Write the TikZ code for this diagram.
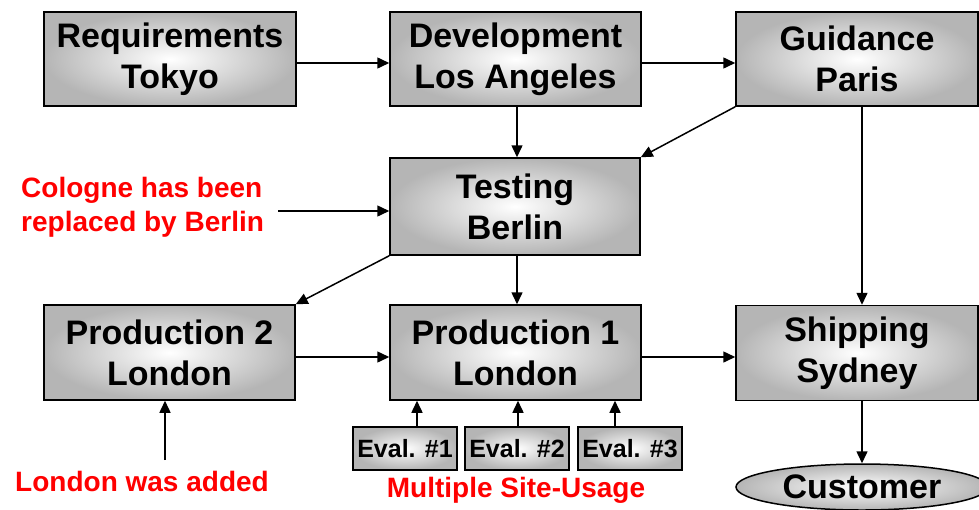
\documentclass[tikz,border=0pt]{standalone}
\usepackage{fontspec}
\setmainfont{Liberation Sans}
\usetikzlibrary{arrows.meta,shapes.geometric}

\tikzset{
  site/.style={draw=black, line width=1.5pt, shading=radial,
    inner color=white, outer color=black!29, inner sep=0pt,
    align=center, font=\fontsize{34}{41}\selectfont\bfseries},
  evalbox/.style={draw=black, line width=1.3pt, shading=radial,
    inner color=white, outer color=black!29, inner sep=0pt,
    minimum width=104pt, minimum height=43pt,
    font=\fontsize{25}{28}\selectfont\bfseries},
  note/.style={text=red, align=left, inner sep=0pt,
    font=\fontsize{28}{34}\selectfont\bfseries},
  flow/.style={line width=1.5pt, -{Triangle[length=12pt,width=11pt]}}
}

\begin{document}
\begin{tikzpicture}[x=1pt,y=-1pt]
  \useasboundingbox (0,0) rectangle (979,509);

  % site boxes
  \node[site, minimum width=252pt, minimum height=94pt] (req)  at (170,59)    {Requirements\\Tokyo};
  \node[site, minimum width=251pt, minimum height=94pt] (dev)  at (515.5,59)  {Development\\Los Angeles};
  \node[site, minimum width=242pt, minimum height=94pt] (gui)  at (857,59)    {Guidance\\Paris};
  \node[site, minimum width=250pt, minimum height=97pt] (test) at (515,206.5) {Testing\\Berlin};
  \node[site, minimum width=251pt, minimum height=95pt] (prod2) at (169.5,352.5) {Production 2\\London};
  \node[site, minimum width=251pt, minimum height=95pt] (prod1) at (515.5,352.5) {Production 1\\London};
  \node[site, minimum width=242pt, minimum height=95pt] (ship) at (857,353)   {Shipping\\Sydney};

  % evaluation sites
  \node[evalbox] (ev1) at (405,448.5) {Eval. \#1};
  \node[evalbox] (ev2) at (517,448.5) {Eval. \#2};
  \node[evalbox] (ev3) at (630,448.5) {Eval. \#3};

  % customer
  \node[site, ellipse, minimum width=252pt, minimum height=46pt] (cust) at (862,487) {Customer};

  % notes
  \node[note, anchor=west] (cologne) at (21,207) {Cologne has been\\replaced by Berlin};
  \node[note] (added) at (142,481) {London was added};
  \node[note] (multi) at (516,490) {Multiple Site-Usage};

  \coordinate (cologneTail) at (278,211);
  \coordinate (addedTail) at (165,460);

  % connectors
  \draw[flow] (req.east |- 0,63) -- (dev.west |- 0,63);
  \draw[flow] (dev.east |- 0,63) -- (gui.west |- 0,63);
  \draw[flow] (dev.south -| 517,0) -- (test.north -| 517,0);
  \draw[flow] (gui.south west) -- (test.north east);
  \draw[flow] (gui.south -| 862,0) -- (ship.north -| 862,0);
  \draw[flow] (cologneTail) -- (test.west |- cologneTail);
  \draw[flow] (test.south west) -- (prod2.north east);
  \draw[flow] (test.south -| 517,0) -- (prod1.north -| 517,0);
  \draw[flow] (prod2.east |- 0,357) -- (prod1.west |- 0,357);
  \draw[flow] (prod1.east |- 0,357) -- (ship.west |- 0,357);
  \draw[flow] (ship.south -| 862,0) -- (cust.north);
  \draw[flow] (addedTail) -- (prod2.south -| addedTail);
  \draw[flow] (ev1.north -| 417,0) -- (prod1.south -| 417,0);
  \draw[flow] (ev2.north -| 518,0) -- (prod1.south -| 518,0);
  \draw[flow] (ev3.north -| 615,0) -- (prod1.south -| 615,0);
\end{tikzpicture}
\end{document}
